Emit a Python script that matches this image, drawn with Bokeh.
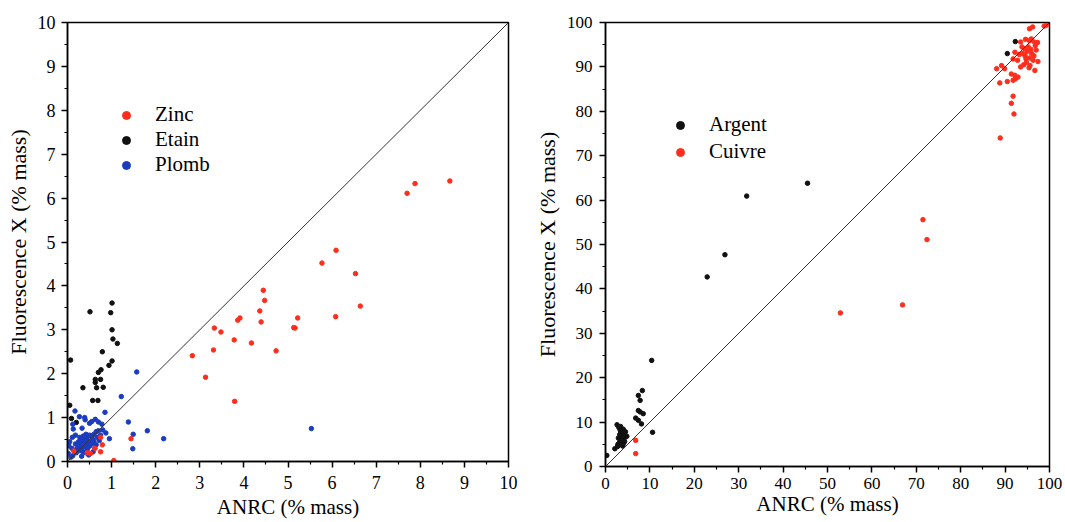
from bokeh.plotting import figure
from bokeh.layouts import row
from bokeh.models import FixedTicker, Legend, LegendItem, Range1d, Slope
from bokeh.embed import file_html
from bokeh.resources import INLINE

# ---------------- data: left panel (Zinc / Etain / Plomb) ----------------
zinc_x = [8.67, 7.88, 7.70, 6.09, 5.77, 6.53, 6.64, 6.08, 5.22, 5.13, 5.16, 4.73,
          4.44, 4.47, 4.36, 4.39, 3.91, 3.86, 4.17, 3.78, 3.33, 3.48, 3.31, 2.83,
          3.13, 3.79, 1.44, 0.75, 0.79, 0.75, 0.52, 0.14, 1.05, 0.62, 0.45]
zinc_y = [6.39, 6.33, 6.11, 4.81, 4.52, 4.28, 3.54, 3.30, 3.27, 3.05, 3.04, 2.52,
          3.90, 3.67, 3.43, 3.18, 3.27, 3.22, 2.70, 2.77, 3.04, 2.95, 2.54, 2.41,
          1.92, 1.37, 0.52, 0.55, 0.38, 0.22, 0.18, 0.24, 0.02, 0.30, 0.20]

etain_x = [1.01, 0.51, 0.98, 1.01, 1.03, 1.13, 0.79, 1.01, 0.94, 0.07, 0.76, 0.70,
           0.75, 0.63, 0.63, 0.81, 0.66, 0.35, 0.57, 0.69, 0.05, 0.09, 0.20]
etain_y = [3.61, 3.41, 3.39, 3.00, 2.79, 2.69, 2.50, 2.29, 2.19, 2.31, 2.09, 2.03,
           1.87, 1.87, 1.80, 1.69, 1.68, 1.68, 1.39, 1.39, 1.28, 0.98, 0.89]

plomb_x = [1.57, 1.22, 0.85, 1.38, 1.81, 1.49, 2.18, 1.48, 0.95, 0.17, 0.27, 0.39,
           0.40, 0.55, 0.63, 0.50, 0.13, 0.33, 0.11, 0.87, 0.42, 0.03, 0.02, 0.12,
           5.53,
           0.25, 0.30, 0.35, 0.40, 0.45, 0.50, 0.55, 0.60, 0.65, 0.70, 0.32, 0.38,
           0.42, 0.48, 0.52, 0.58, 0.28, 0.22, 0.18, 0.20, 0.35, 0.45, 0.50, 0.55,
           0.60, 0.30, 0.25, 0.40, 0.48, 0.15, 0.10, 0.62, 0.68, 0.72, 0.75, 0.80,
           0.36, 0.44, 0.28, 0.18, 0.65, 0.58, 0.32, 0.08, 0.05, 0.12, 0.70, 0.78]
plomb_y = [2.04, 1.48, 1.12, 0.90, 0.70, 0.62, 0.52, 0.29, 0.52, 1.15, 1.02, 1.00,
           0.95, 0.91, 0.96, 0.87, 0.74, 0.76, 0.55, 0.65, 0.62, 0.36, 0.18, 0.13,
           0.75,
           0.35, 0.40, 0.45, 0.50, 0.55, 0.60, 0.58, 0.62, 0.68, 0.70, 0.30, 0.33,
           0.38, 0.42, 0.45, 0.50, 0.25, 0.30, 0.40, 0.20, 0.22, 0.28, 0.35, 0.40,
           0.45, 0.50, 0.45, 0.20, 0.15, 0.25, 0.30, 0.30, 0.55, 0.48, 0.60, 0.72,
           0.58, 0.48, 0.55, 0.60, 0.38, 0.22, 0.12, 0.10, 0.45, 0.85, 0.90, 0.85]

# ---------------- data: right panel (Argent / Cuivre) ----------------
argent_x = [45.5, 31.8, 26.9, 22.9, 10.4, 8.3, 7.4, 7.8, 7.4, 7.8, 8.5, 6.8, 7.4,
            8.1, 10.6, 2.6, 2.1, 92.3, 90.5,
            3.0, 3.3, 3.6, 3.9, 4.2, 3.2, 3.5, 3.8, 4.1, 4.4, 2.9, 3.3, 3.7, 4.0,
            3.1, 3.5, 2.8, 4.5, 4.0, 3.4, 4.8, 2.7, 3.9, 4.3, 3.6, 0.3]
argent_y = [63.8, 60.9, 47.7, 42.7, 23.9, 17.1, 16.0, 14.9, 12.6, 12.3, 11.9, 10.9,
            10.4, 9.6, 7.7, 9.4, 4.0, 95.7, 93.0,
            8.8, 8.2, 7.8, 7.4, 7.0, 7.2, 6.8, 6.4, 6.0, 6.6, 6.4, 5.9, 5.5, 5.1,
            5.3, 4.9, 5.0, 7.8, 8.4, 9.0, 6.8, 4.5, 4.6, 5.6, 6.0, 2.5]

cuivre_x = [71.5, 72.4, 66.9, 52.9, 6.8, 6.8, 88.9, 92.0, 91.4, 91.8, 88.8, 90.5,
            92.3, 92.2, 92.9, 91.4, 91.8, 89.2, 88.1, 89.9, 91.8, 92.2, 93.5, 94.4,
            96.7, 97.4, 95.6, 95.5, 96.2, 95.9, 95.5, 96.6, 98.8, 99.3, 94.7,
            94.0, 94.5, 95.0, 95.5, 96.0, 96.5, 95.2, 94.8, 96.3, 95.8, 93.8, 97.0,
            94.2, 95.4, 96.8, 93.2, 97.3, 92.8, 93.5, 94.6]
cuivre_y = [55.6, 51.1, 36.4, 34.6, 5.9, 2.9, 74.0, 79.4, 81.8, 83.4, 86.4, 86.7,
            87.3, 88.1, 87.7, 88.4, 87.0, 90.3, 89.6, 89.6, 91.8, 93.3, 95.6, 94.1,
            89.2, 91.2, 90.3, 98.6, 99.0, 96.3, 95.9, 95.6, 99.2, 99.4, 91.8,
            93.0, 92.5, 93.5, 92.0, 93.0, 92.5, 94.5, 91.0, 91.5, 94.0, 94.5, 93.8,
            90.5, 89.8, 94.8, 92.8, 95.5, 91.5, 90.0, 96.2]

left_ticks = [0, 1, 2, 3, 4, 5, 6, 7, 8, 9, 10]
left_minor = [0.5, 1.5, 2.5, 3.5, 4.5, 5.5, 6.5, 7.5, 8.5, 9.5]
right_ticks = [0, 10, 20, 30, 40, 50, 60, 70, 80, 90, 100]
right_minor = [5, 15, 25, 35, 45, 55, 65, 75, 85, 95]

x_label = "ANRC (% mass)"
y_label = "Fluorescence X (% mass)"

RED = "#ff2e1c"
BLACK = "#111111"
BLUE = "#1c3cc0"
FONT = "Liberation Serif"


def style(p, major, minor, tick_size, x_std, y_std):
    for ax in (p.xaxis[0], p.yaxis[0]):
        ax.ticker = FixedTicker(ticks=major, minor_ticks=minor)
        ax.major_tick_in = 0
        ax.major_tick_out = 6
        ax.minor_tick_in = 0
        ax.minor_tick_out = 3
        ax.axis_line_width = 1.5
        ax.axis_line_color = "black"
        ax.major_tick_line_width = 1.5
        ax.minor_tick_line_width = 1.2
        ax.major_tick_line_color = "black"
        ax.minor_tick_line_color = "black"
        ax.major_label_text_font = FONT
        ax.major_label_text_font_size = tick_size
        ax.major_label_text_color = "black"
        ax.axis_label_text_font = FONT
        ax.axis_label_text_font_style = "normal"
        ax.axis_label_text_color = "black"
    p.xaxis[0].axis_label_text_font_size = "21px"
    p.yaxis[0].axis_label_text_font_size = "22px"
    p.xaxis[0].major_label_standoff = x_std[0]
    p.xaxis[0].axis_label_standoff = x_std[1]
    p.yaxis[0].major_label_standoff = y_std[0]
    p.yaxis[0].axis_label_standoff = y_std[1]
    p.grid.visible = False
    p.outline_line_color = "black"
    p.outline_line_width = 1.5
    p.outline_line_alpha = 1
    p.background_fill_color = "white"
    p.border_fill_color = "white"


def make_legend(p, entries, loc, spacing):
    items = [LegendItem(label=label, renderers=[r]) for label, r in entries]
    leg = Legend(items=items, location=loc, label_text_font=FONT,
                 label_text_font_size="21px", label_text_color="black",
                 glyph_width=20, glyph_height=24, label_height=24,
                 spacing=spacing, padding=0, margin=0, label_standoff=19,
                 border_line_alpha=0, background_fill_alpha=0)
    p.add_layout(leg)


# ---------------- left figure ----------------
p1 = figure(frame_width=441, frame_height=439, output_backend="svg",
            toolbar_location=None,
            x_range=Range1d(0, 10), y_range=Range1d(0, 10),
            min_border_left=67, min_border_right=23, min_border_top=20,
            min_border_bottom=40, x_axis_label=x_label, y_axis_label=y_label)
style(p1, left_ticks, left_minor, "18px", (8, 3), (6, 4))
p1.add_layout(Slope(gradient=1, y_intercept=0, line_color="#333333", line_width=1))
r_et = p1.scatter(etain_x, etain_y, size=4.5, color=BLACK)
r_pb = p1.scatter(plomb_x, plomb_y, size=4.5, color=BLUE)
r_zn = p1.scatter(zinc_x, zinc_y, size=4.5, color=RED)
make_legend(p1, [("Zinc", r_zn), ("Etain", r_et), ("Plomb", r_pb)], (49, 284), 0)

# ---------------- right figure ----------------
p2 = figure(frame_width=444, frame_height=444, output_backend="svg",
            toolbar_location=None,
            x_range=Range1d(0, 100), y_range=Range1d(0, 100),
            min_border_left=66, min_border_right=14, min_border_top=22,
            min_border_bottom=40, x_axis_label=x_label, y_axis_label=y_label)
style(p2, right_ticks, right_minor, "17px", (5, 0), (7, 4))
p2.add_layout(Slope(gradient=1, y_intercept=0, line_color="#333333", line_width=1))
r_ag = p2.scatter(argent_x, argent_y, size=4.5, color=BLACK)
r_cu = p2.scatter(cuivre_x, cuivre_y, size=4.5, color=RED)
make_legend(p2, [("Argent", r_ag), ("Cuivre", r_cu)], (65, 302), 2)

layout = row(p1, p2)
open("out.html", "w").write(file_html(layout, INLINE))
